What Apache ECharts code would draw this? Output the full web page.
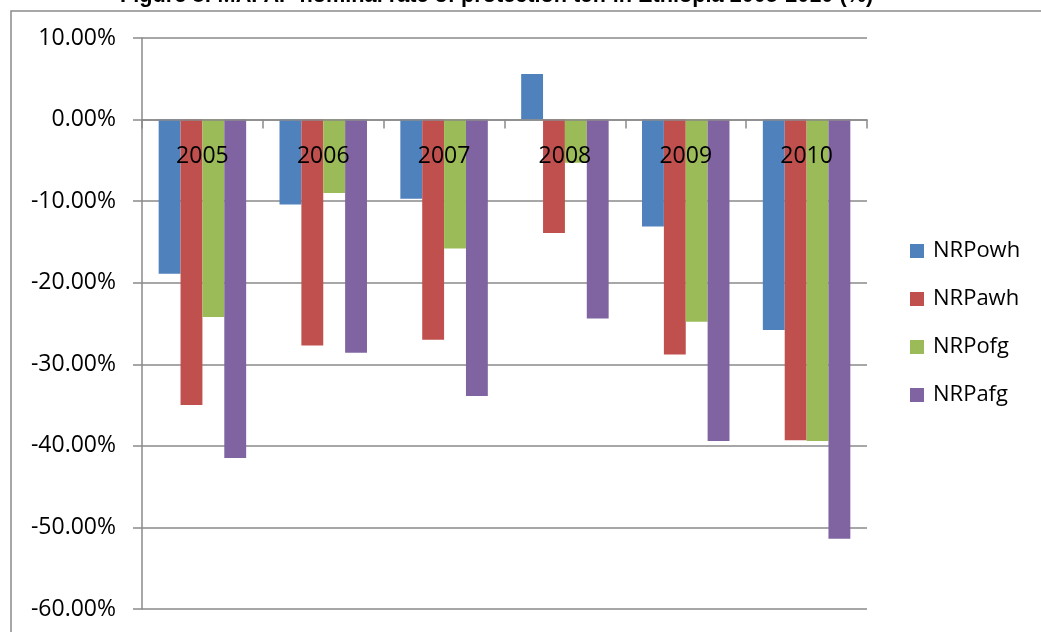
<!DOCTYPE html>
<html>
<head>
<meta charset="UTF-8">
<title>NRP teff Ethiopia</title>
<script src="https://cdn.jsdelivr.net/npm/echarts@6/dist/echarts.min.js"></script>
<style>
  html, body { margin: 0; padding: 0; background: #fff; }
  #main { width: 1041px; height: 632px; }
</style>
</head>
<body>
<div id="main"></div>
<script>
// values, in percent
var years = ['2005', '2006', '2007', '2008', '2009', '2010'];
var nrpowh = [-18.9, -10.4, -9.7, 5.6, -13.1, -25.8];
var nrpawh = [-35.0, -27.7, -27.0, -13.9, -28.8, -39.3];
var nrpofg = [-24.2, -9.0, -15.8, -5.3, -24.8, -39.4];
var nrpafg = [-41.5, -28.6, -33.9, -24.4, -39.4, -51.4];

var seriesNames = ['NRPowh', 'NRPawh', 'NRPofg', 'NRPafg'];
var seriesData = [nrpowh, nrpawh, nrpofg, nrpafg];
var colors = ['#4F81BD', '#C0504D', '#9BBB59', '#8064A2'];

var font = '"Open Sans", Lato, sans-serif';
var gridColor = '#8a8a8a';

var gridTop = 38, gridBottom = 23;
var yMin = -60, yMax = 10;
// the category axis sits on the 0 line: shift the top axis down by that much
var plotH = 632 - gridTop - gridBottom;
var zeroOffset = -plotH * yMax / (yMax - yMin);

var chart = echarts.init(document.getElementById('main'));

var series = seriesNames.map(function (name, i) {
  return {
    name: name,
    type: 'bar',
    data: seriesData[i],
    barGap: '0%',
    barCategoryGap: '27.6%',
    itemStyle: { color: colors[i] }
  };
});

chart.setOption({
  animation: false,
  color: colors,
  graphic: [
    {
      type: 'rect',
      shape: { x: 11, y: 11, width: 1040, height: 640 },
      style: { fill: 'none', stroke: '#8a8a8a', lineWidth: 1.5 },
      z: -1
    },
    {
      type: 'text',
      left: 120,
      top: -15,
      style: {
        text: 'Figure 8: MAFAP nominal rate of protection teff in Ethiopia 2005-2010 (%)',
        font: 'bold 21.7px "Liberation Sans", Arial, sans-serif',
        fill: '#000'
      }
    }
  ],
  grid: { left: 142, right: 174, top: gridTop, bottom: gridBottom },
  legend: {
    orient: 'vertical',
    left: 910,
    top: 240,
    padding: 0,
    itemWidth: 14,
    itemHeight: 14,
    itemGap: 26,
    icon: 'rect',
    textStyle: { fontFamily: font, fontSize: 22, lineHeight: 22, color: '#000', padding: [0, 0, 0, 4] },
    data: seriesNames
  },
  xAxis: {
    type: 'category',
    data: years,
    position: 'top',
    offset: zeroOffset,
    axisLine: { onZero: false, lineStyle: { color: gridColor, width: 1.5 } },
    axisTick: { show: true, inside: true, length: 9, lineStyle: { color: gridColor, width: 1.5 } },
    axisLabel: { inside: true, fontFamily: font, fontSize: 23, color: '#000', margin: 25 },
    z: 5
  },
  yAxis: {
    type: 'value',
    min: yMin,
    max: yMax,
    interval: 10,
    axisLine: { show: true, lineStyle: { color: gridColor, width: 1.5 } },
    axisTick: { show: true, length: 9, lineStyle: { color: gridColor, width: 1.5 } },
    splitLine: { lineStyle: { color: gridColor, width: 1.5 } },
    axisLabel: {
      fontFamily: font,
      fontSize: 23,
      color: '#000',
      margin: 26,
      formatter: function (v) { return v.toFixed(2) + '%'; }
    }
  },
  series: series
});
</script>
</body>
</html>
